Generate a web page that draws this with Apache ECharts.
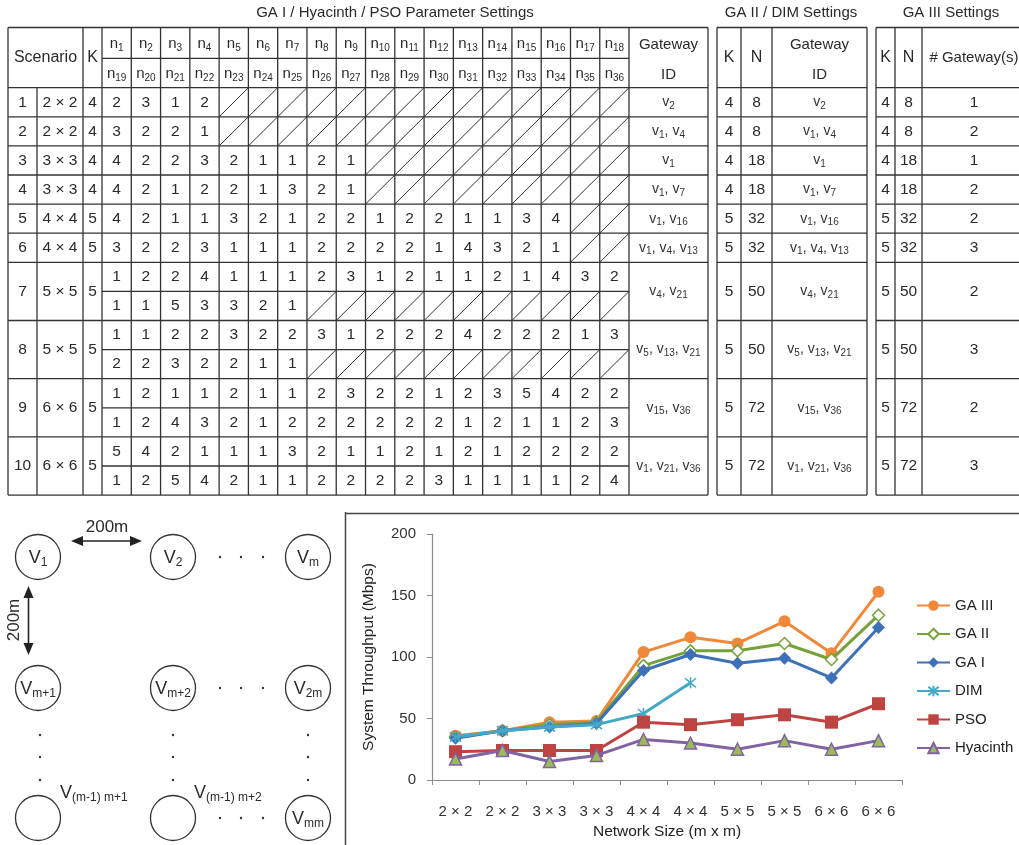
<!DOCTYPE html>
<html><head><meta charset="utf-8">
<script src="https://cdn.jsdelivr.net/npm/echarts@6/dist/echarts.min.js"></script>
<style>html,body{margin:0;padding:0;background:#fff}#main{width:1019px;height:845px}</style>
</head><body><div id="main"></div>
<script>
// ===================== DATA =====================
const scenarioIds = [1, 2, 3, 4, 5, 6, 7, 8, 9, 10];
const networkSizes = ['2 × 2', '2 × 2', '3 × 3', '3 × 3', '4 × 4', '4 × 4', '5 × 5', '5 × 5', '6 × 6', '6 × 6'];
const kGA1 = [4, 4, 4, 4, 5, 5, 5, 5, 5, 5];
const _ = null;
// n1..n18 per scenario (null = empty cell)
const nFirstRow = [
  [2, 3, 1, 2, _, _, _, _, _, _, _, _, _, _, _, _, _, _],
  [3, 2, 2, 1, _, _, _, _, _, _, _, _, _, _, _, _, _, _],
  [4, 2, 2, 3, 2, 1, 1, 2, 1, _, _, _, _, _, _, _, _, _],
  [4, 2, 1, 2, 2, 1, 3, 2, 1, _, _, _, _, _, _, _, _, _],
  [4, 2, 1, 1, 3, 2, 1, 2, 2, 1, 2, 2, 1, 1, 3, 4, _, _],
  [3, 2, 2, 3, 1, 1, 1, 2, 2, 2, 2, 1, 4, 3, 2, 1, _, _],
  [1, 2, 2, 4, 1, 1, 1, 2, 3, 1, 2, 1, 1, 2, 1, 4, 3, 2],
  [1, 1, 2, 2, 3, 2, 2, 3, 1, 2, 2, 2, 4, 2, 2, 2, 1, 3],
  [1, 2, 1, 1, 2, 1, 1, 2, 3, 2, 2, 1, 2, 3, 5, 4, 2, 2],
  [5, 4, 2, 1, 1, 1, 3, 2, 1, 1, 2, 1, 2, 1, 2, 2, 2, 2]
];
// n19..n36 per scenario (null row = scenario uses only n1..n18)
const nSecondRow = [
  null, null, null, null, null, null,
  [1, 1, 5, 3, 3, 2, 1, _, _, _, _, _, _, _, _, _, _, _],
  [2, 2, 3, 2, 2, 1, 1, _, _, _, _, _, _, _, _, _, _, _],
  [1, 2, 4, 3, 2, 1, 2, 2, 2, 2, 2, 2, 1, 2, 1, 1, 2, 3],
  [1, 2, 5, 4, 2, 1, 1, 2, 2, 2, 2, 3, 1, 1, 1, 1, 2, 4]
];
const gatewayIdsGA1 = [[2], [1, 4], [1], [1, 7], [1, 16], [1, 4, 13], [4, 21], [5, 13, 21], [15, 36], [1, 21, 36]];
const kGA2 = [4, 4, 4, 4, 5, 5, 5, 5, 5, 5];
const nGA2 = [8, 8, 18, 18, 32, 32, 50, 50, 72, 72];
const gatewayIdsGA2 = [[2], [1, 4], [1], [1, 7], [1, 16], [1, 4, 13], [4, 21], [5, 13, 21], [15, 36], [1, 21, 36]];
const kGA3 = [4, 4, 4, 4, 5, 5, 5, 5, 5, 5];
const nGA3 = [8, 8, 18, 18, 32, 32, 50, 50, 72, 72];
const gatewayCountGA3 = [1, 2, 1, 2, 2, 3, 2, 3, 2, 3];

const tableTitles = ['GA I / Hyacinth / PSO Parameter Settings', 'GA II / DIM Settings', 'GA III Settings'];

// chart
const chartCategories = ['2 × 2', '2 × 2', '3 × 3', '3 × 3', '4 × 4', '4 × 4', '5 × 5', '5 × 5', '6 × 6', '6 × 6'];
const seriesNames = ['GA III', 'GA II', 'GA I', 'DIM', 'PSO', 'Hyacinth'];
const gaIII = [36, 40, 47, 48, 104, 116, 111, 129, 103, 153];
const gaII = [35, 40, 45, 47, 93, 105, 105, 111, 98, 134];
const gaI = [34, 40, 43, 46, 89, 102, 95, 99, 83, 124];
const dim = [35, 40, 43, 45, 54, 79, null, null, null, null];
const pso = [23, 24, 24, 24, 47, 45, 49, 53, 47, 62];
const hyacinth = [17, 24, 15, 20, 33, 30, 25, 32, 25, 32];
const yTicks = { min: 0, max: 200, step: 50 };

// ===================== DRAWING =====================
const FONT = '"Liberation Sans", Arial, Helvetica, sans-serif';
const INK = '#2a2a2a';
const g = [];
function line(x1, y1, x2, y2, w, c) {
  g.push({ type: 'line', silent: true, shape: { x1, y1, x2, y2 }, style: { stroke: c || '#333', lineWidth: w || 1.3 } });
}
function text(x, y, t, o, rot) {
  const el = { type: 'text', silent: true, x, y, style: Object.assign({ text: String(t), fill: INK, fontFamily: FONT, fontSize: 15, align: 'center', verticalAlign: 'middle' }, o || {}) };
  if (rot) el.rotation = rot;
  g.push(el);
}
function richSub(mainSize, subSize, color) {
  return {
    m: { fontSize: mainSize, fontFamily: FONT, fill: color || INK, lineHeight: mainSize + 3, verticalAlign: 'middle' },
    s: { fontSize: subSize, fontFamily: FONT, fill: color || INK, lineHeight: subSize + 1, verticalAlign: 'bottom' }
  };
}
function gwText(ids) { return ids.map(id => '{m|v}{s|' + id + '}').join('{m|, }'); }

// ---- table geometry (layout only) ----
const T1 = { x0: 8, numR: 37, sizeR: 83, kR: 102, nW: 29.28, gwL: 629, gwR: 708 };
const T2 = { x0: 717, kR: 741, nR: 772, gwR: 867 };
const T3 = { x0: 876, kR: 895, nR: 922, xR: 1030 };
const HY0 = 27.5, HYM = 58.3, HY1 = 87.7, RH = 29.1;
function rowTop(i) { return i < 6 ? HY1 + i * RH : HY1 + 6 * RH + (i - 6) * 2 * RH; }
function rowH(i) { return nSecondRow[i] ? 2 * RH : RH; }
const tableBottom = rowTop(9) + rowH(9);

// titles
text(395, 13, tableTitles[0]);
text(791, 13, tableTitles[1]);
text(951, 13, tableTitles[2]);

// header texts
text((T1.x0 + T1.sizeR) / 2, (HY0 + HY1) / 2, 'Scenario', { fontSize: 16 });
text((T1.sizeR + T1.kR) / 2, (HY0 + HY1) / 2, 'K', { fontSize: 16 });
for (let j = 0; j < 18; j++) {
  const cx = T1.kR + (j + 0.5) * T1.nW;
  text(cx, (HY0 + HYM) / 2 + 1, '{m|n}{s|' + (j + 1) + '}', { rich: richSub(15, 10) });
  text(cx, (HYM + HY1) / 2 + 1, '{m|n}{s|' + (j + 19) + '}', { rich: richSub(15, 10) });
}
text((T1.gwL + T1.gwR) / 2, 45, 'Gateway', { fontSize: 15 });
text((T1.gwL + T1.gwR) / 2, 75, 'ID', { fontSize: 15 });
text((T2.x0 + T2.kR) / 2, 58, 'K', { fontSize: 16 });
text((T2.kR + T2.nR) / 2, 58, 'N', { fontSize: 16 });
text((T2.nR + T2.gwR) / 2, 45, 'Gateway', { fontSize: 15 });
text((T2.nR + T2.gwR) / 2, 75, 'ID', { fontSize: 15 });
text((T3.x0 + T3.kR) / 2, 58, 'K', { fontSize: 16 });
text((T3.kR + T3.nR) / 2, 58, 'N', { fontSize: 16 });
text(974, 58, '# Gateway(s)', { fontSize: 15 });

// header lines
line(T1.x0, HY0, T1.gwR, HY0); line(T1.x0, HY1, T1.gwR, HY1); line(T1.kR, HYM, T1.gwL, HYM);
line(T2.x0, HY0, T2.gwR, HY0); line(T2.x0, HY1, T2.gwR, HY1);
line(T3.x0, HY0, T3.xR, HY0); line(T3.x0, HY1, T3.xR, HY1);

// body rows
for (let i = 0; i < scenarioIds.length; i++) {
  const top = rowTop(i), h = rowH(i), bot = top + h, mid = top + h / 2;
  text((T1.x0 + T1.numR) / 2, mid, scenarioIds[i], { fontSize: 15.5 });
  text((T1.numR + T1.sizeR) / 2, mid, networkSizes[i], { fontSize: 15.5 });
  text((T1.sizeR + T1.kR) / 2, mid, kGA1[i], { fontSize: 15.5 });
  const subRows = nSecondRow[i] ? [nFirstRow[i], nSecondRow[i]] : [nFirstRow[i]];
  subRows.forEach((vals, r) => {
    const st = top + r * RH, sb = st + RH;
    vals.forEach((v, j) => {
      const xl = T1.kR + j * T1.nW, xr = xl + T1.nW;
      if (v === null) line(xl, sb, xr, st, 1, '#333');
      else text((xl + xr) / 2, (st + sb) / 2, v, { fontSize: 15.5 });
    });
  });
  if (nSecondRow[i]) line(T1.kR, top + RH, T1.gwL, top + RH);
  line(T1.x0, bot, T1.gwR, bot);
  text((T1.gwL + T1.gwR) / 2, mid, gwText(gatewayIdsGA1[i]), { rich: richSub(14, 10, '#333') });
  // GA II
  text((T2.x0 + T2.kR) / 2, mid, kGA2[i], { fontSize: 15.5 });
  text((T2.kR + T2.nR) / 2, mid, nGA2[i], { fontSize: 15.5 });
  text((T2.nR + T2.gwR) / 2, mid, gwText(gatewayIdsGA2[i]), { rich: richSub(14, 10, '#333') });
  line(T2.x0, bot, T2.gwR, bot);
  // GA III
  text((T3.x0 + T3.kR) / 2, mid, kGA3[i], { fontSize: 15.5 });
  text((T3.kR + T3.nR) / 2, mid, nGA3[i], { fontSize: 15.5 });
  text(974, mid, gatewayCountGA3[i], { fontSize: 15.5 });
  line(T3.x0, bot, T3.xR, bot);
}
// vertical lines
line(T1.x0, HY0, T1.x0, tableBottom);
line(T1.numR, HY1, T1.numR, tableBottom);
[T1.sizeR, T1.kR, T1.gwL, T1.gwR].forEach(x => line(x, HY0, x, tableBottom));
for (let j = 1; j < 18; j++) { const x = T1.kR + j * T1.nW; line(x, HY0, x, tableBottom); }
[T2.x0, T2.kR, T2.nR, T2.gwR].forEach(x => line(x, HY0, x, tableBottom));
[T3.x0, T3.kR, T3.nR].forEach(x => line(x, HY0, x, tableBottom));

// ---- grid diagram (bottom-left) ----
const nodeCx = [38, 173, 308], nodeCy = [557, 688, 818], nodeR = 22.5;
const nodeLabels = [['1', '2', 'm'], ['m+1', 'm+2', '2m'], [null, null, 'mm']];
nodeCy.forEach((cy, r) => nodeCx.forEach((cx, c) => {
  g.push({ type: 'circle', silent: true, shape: { cx, cy, r: nodeR }, style: { fill: 'none', stroke: '#333', lineWidth: 1.3 } });
  const lb = nodeLabels[r][c];
  if (lb) text(cx, cy + 1, '{m|V}{s|' + lb + '}', { rich: richSub(18, 12) });
}));
text(60, 793, '{m|V}{s|(m-1) m+1}', { rich: richSub(18, 12), align: 'left' });
text(194, 793, '{m|V}{s|(m-1) m+2}', { rich: richSub(18, 12), align: 'left' });
function dot(x, y) { g.push({ type: 'circle', silent: true, shape: { cx: x, cy: y, r: 1.2 }, style: { fill: '#333' } }); }
nodeCy.forEach(cy => [220, 241, 263].forEach(x => dot(x, cy)));
nodeCx.forEach(cx => [735, 757, 780].forEach(y => dot(cx + (cx === 38 ? 2 : 0), y)));
// arrows
line(78, 541, 136, 541, 1.6, '#222');
g.push({ type: 'polygon', silent: true, shape: { points: [[71, 541], [83, 536], [83, 546]] }, style: { fill: '#222' } });
g.push({ type: 'polygon', silent: true, shape: { points: [[142, 541], [130, 536], [130, 546]] }, style: { fill: '#222' } });
line(28.5, 593, 28.5, 648, 1.6, '#222');
g.push({ type: 'polygon', silent: true, shape: { points: [[28.5, 586], [23.5, 598], [33.5, 598]] }, style: { fill: '#222' } });
g.push({ type: 'polygon', silent: true, shape: { points: [[28.5, 655], [23.5, 643], [33.5, 643]] }, style: { fill: '#222' } });
text(107, 527, '200m', { fontSize: 17 });
text(14, 620, '200m', { fontSize: 17 }, Math.PI / 2);

// chart panel border
line(345.5, 512, 345.5, 845, 1.5, '#444');
line(345, 513.5, 1019, 513.5, 1.5, '#444');

// ===================== CHART =====================
const C = {
  gaIII: '#F0883A', gaII: '#77A23A', gaI: '#3D70B7', dim: '#44A9C6', pso: '#BE4441', hyaLine: '#8064A2', hyaFill: '#9BBB59'
};
const seriesData = [gaIII, gaII, gaI, dim, pso, hyacinth];
const seriesStyle = [
  { symbol: 'circle', symbolSize: 12, lineStyle: { width: 3, color: C.gaIII }, itemStyle: { color: C.gaIII } },
  { symbol: 'diamond', symbolSize: 12, lineStyle: { width: 3, color: C.gaII }, itemStyle: { color: '#fff', borderColor: C.gaII, borderWidth: 1.5 } },
  { symbol: 'diamond', symbolSize: 13, lineStyle: { width: 3, color: C.gaI }, itemStyle: { color: C.gaI } },
  { symbol: 'path://M0,0L10,10M10,0L0,10M5,-1L5,11', symbolSize: 11, lineStyle: { width: 3, color: C.dim }, itemStyle: { color: 'rgba(0,0,0,0)', borderColor: C.dim, borderWidth: 1.6 } },
  { symbol: 'rect', symbolSize: 13, lineStyle: { width: 3, color: C.pso }, itemStyle: { color: C.pso } },
  { symbol: 'triangle', symbolSize: 12, lineStyle: { width: 3, color: C.hyaLine }, itemStyle: { color: C.hyaFill, borderColor: C.hyaLine, borderWidth: 1.5 } }
];

const chart = echarts.init(document.getElementById('main'), null, { renderer: 'canvas' });
chart.setOption({
  animation: false,
  backgroundColor: '#fff',
  textStyle: { fontFamily: FONT },
  grid: { left: 432, top: 534, width: 470, height: 246, containLabel: false },
  legend: {
    orient: 'vertical', left: 916, top: 598, padding: 0, itemWidth: 33, itemHeight: 13, itemGap: 13.5,
    textStyle: { fontSize: 15, color: '#222', fontFamily: FONT },
    data: seriesNames
  },
  xAxis: {
    type: 'category', data: chartCategories, boundaryGap: true,
    axisLine: { lineStyle: { color: '#8c8c8c', width: 1.2 } },
    axisTick: { show: true, length: 5, lineStyle: { color: '#8c8c8c' } },
    axisLabel: { interval: 0, fontSize: 15, color: '#333', margin: 24, fontFamily: FONT },
    name: 'Network Size (m x m)', nameLocation: 'middle', nameGap: 44,
    nameTextStyle: { fontSize: 15.5, color: '#222', fontFamily: FONT, verticalAlign: 'top' }
  },
  yAxis: {
    type: 'value', min: yTicks.min, max: yTicks.max, interval: yTicks.step,
    axisLine: { show: true, lineStyle: { color: '#8c8c8c', width: 1.2 } },
    axisTick: { show: true, length: 5, lineStyle: { color: '#8c8c8c' } },
    splitLine: { show: false },
    axisLabel: { fontSize: 15, color: '#333', margin: 16, fontFamily: FONT },
    name: 'System Throughput (Mbps)', nameLocation: 'middle', nameGap: 55, nameRotate: 90,
    nameTextStyle: { fontSize: 15.5, color: '#222', fontFamily: FONT }
  },
  series: seriesNames.map((name, k) => Object.assign({
    name, type: 'line', data: seriesData[k], showAllSymbol: true, connectNulls: false, z: 2 + k
  }, seriesStyle[k])),
  graphic: { elements: g }
});
</script></body></html>
